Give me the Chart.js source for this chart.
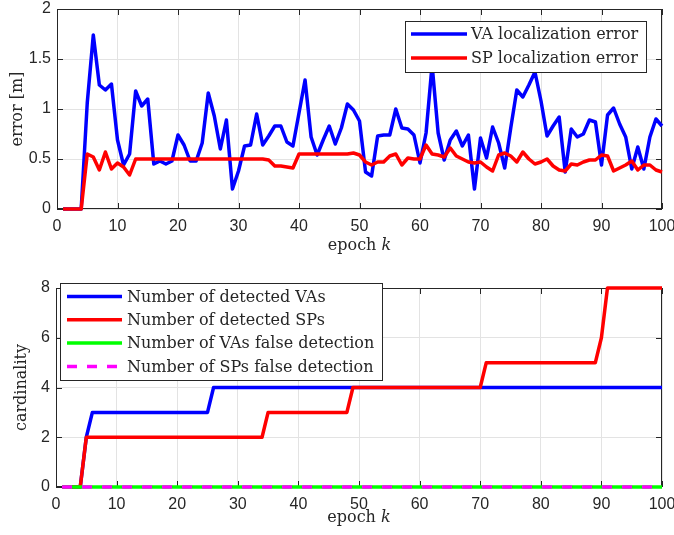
<!DOCTYPE html>
<html>
<head>
<meta charset="utf-8">
<script src="https://cdn.jsdelivr.net/npm/chart.js@4.4.0/dist/chart.umd.min.js"></script>
<style>
  body { margin: 0; background: #fff; }
  #wrap { position: relative; width: 674px; height: 535px; }
  canvas { position: absolute; left: 0; }
</style>
</head>
<body>
<div id="wrap">
  <canvas id="errChart" width="674" height="267" style="top:0"></canvas>
  <canvas id="cardChart" width="674" height="268" style="top:267px"></canvas>
</div>
<script>
// epochs k = 1..100
const epochs = Array.from({ length: 100 }, (_, i) => i + 1);

// top panel: localization error [m]
const vaError = [
  0, 0, 0, 0, 1.06, 1.74, 1.24, 1.19, 1.25, 0.69,
  0.44, 0.55, 1.18, 1.03, 1.10, 0.45, 0.48, 0.45, 0.48, 0.74,
  0.64, 0.48, 0.48, 0.66, 1.16, 0.93, 0.60, 0.89, 0.20, 0.38,
  0.63, 0.64, 0.95, 0.64, 0.73, 0.83, 0.83, 0.67, 0.63, 0.96,
  1.29, 0.72, 0.54, 0.69, 0.83, 0.65, 0.81, 1.05, 0.99, 0.88,
  0.37, 0.33, 0.73, 0.74, 0.74, 1.00, 0.81, 0.80, 0.74, 0.46,
  0.76, 1.44, 0.76, 0.49, 0.69, 0.78, 0.63, 0.74, 0.20, 0.71,
  0.51, 0.82, 0.66, 0.41, 0.81, 1.19, 1.12, 1.24, 1.37, 1.08,
  0.73, 0.83, 0.92, 0.37, 0.80, 0.72, 0.75, 0.89, 0.87, 0.44,
  0.94, 1.01, 0.85, 0.72, 0.40, 0.62, 0.40, 0.72, 0.90, 0.83
];
const spError = [
  0, 0, 0, 0, 0.55, 0.52, 0.39, 0.57, 0.40, 0.46,
  0.42, 0.34, 0.50, 0.50, 0.50, 0.50, 0.50, 0.50, 0.50, 0.50,
  0.50, 0.50, 0.50, 0.50, 0.50, 0.50, 0.50, 0.50, 0.50, 0.50,
  0.50, 0.50, 0.50, 0.50, 0.49, 0.43, 0.43, 0.42, 0.41, 0.55,
  0.55, 0.55, 0.55, 0.55, 0.55, 0.55, 0.55, 0.55, 0.56, 0.54,
  0.47, 0.44, 0.47, 0.47, 0.53, 0.55, 0.44, 0.51, 0.50, 0.50,
  0.64, 0.55, 0.54, 0.52, 0.61, 0.53, 0.50, 0.47, 0.46, 0.47,
  0.42, 0.38, 0.54, 0.56, 0.53, 0.47, 0.57, 0.50, 0.45, 0.47,
  0.50, 0.43, 0.39, 0.38, 0.45, 0.44, 0.47, 0.49, 0.49, 0.54,
  0.53, 0.38, 0.41, 0.44, 0.48, 0.39, 0.44, 0.44, 0.39, 0.37
];

// bottom panel: cardinality
const vaCount = [
  0, 0, 0, 0, 2, 3, 3, 3, 3, 3, 3, 3, 3, 3, 3, 3, 3, 3, 3, 3,
  3, 3, 3, 3, 3, 4, 4, 4, 4, 4, 4, 4, 4, 4, 4, 4, 4, 4, 4, 4,
  4, 4, 4, 4, 4, 4, 4, 4, 4, 4, 4, 4, 4, 4, 4, 4, 4, 4, 4, 4,
  4, 4, 4, 4, 4, 4, 4, 4, 4, 4, 4, 4, 4, 4, 4, 4, 4, 4, 4, 4,
  4, 4, 4, 4, 4, 4, 4, 4, 4, 4, 4, 4, 4, 4, 4, 4, 4, 4, 4, 4
];
const spCount = [
  0, 0, 0, 0, 2, 2, 2, 2, 2, 2, 2, 2, 2, 2, 2, 2, 2, 2, 2, 2,
  2, 2, 2, 2, 2, 2, 2, 2, 2, 2, 2, 2, 2, 2, 3, 3, 3, 3, 3, 3,
  3, 3, 3, 3, 3, 3, 3, 3, 4, 4, 4, 4, 4, 4, 4, 4, 4, 4, 4, 4,
  4, 4, 4, 4, 4, 4, 4, 4, 4, 4, 5, 5, 5, 5, 5, 5, 5, 5, 5, 5,
  5, 5, 5, 5, 5, 5, 5, 5, 5, 6, 8, 8, 8, 8, 8, 8, 8, 8, 8, 8
];
const vaFalse = [
  0, 0, 0, 0, 0, 0, 0, 0, 0, 0, 0, 0, 0, 0, 0, 0, 0, 0, 0, 0,
  0, 0, 0, 0, 0, 0, 0, 0, 0, 0, 0, 0, 0, 0, 0, 0, 0, 0, 0, 0,
  0, 0, 0, 0, 0, 0, 0, 0, 0, 0, 0, 0, 0, 0, 0, 0, 0, 0, 0, 0,
  0, 0, 0, 0, 0, 0, 0, 0, 0, 0, 0, 0, 0, 0, 0, 0, 0, 0, 0, 0,
  0, 0, 0, 0, 0, 0, 0, 0, 0, 0, 0, 0, 0, 0, 0, 0, 0, 0, 0, 0
];
const spFalse = [
  0, 0, 0, 0, 0, 0, 0, 0, 0, 0, 0, 0, 0, 0, 0, 0, 0, 0, 0, 0,
  0, 0, 0, 0, 0, 0, 0, 0, 0, 0, 0, 0, 0, 0, 0, 0, 0, 0, 0, 0,
  0, 0, 0, 0, 0, 0, 0, 0, 0, 0, 0, 0, 0, 0, 0, 0, 0, 0, 0, 0,
  0, 0, 0, 0, 0, 0, 0, 0, 0, 0, 0, 0, 0, 0, 0, 0, 0, 0, 0, 0,
  0, 0, 0, 0, 0, 0, 0, 0, 0, 0, 0, 0, 0, 0, 0, 0, 0, 0, 0, 0
];

const xTicks = [0, 10, 20, 30, 40, 50, 60, 70, 80, 90, 100];
const errTicks = [0, 0.5, 1, 1.5, 2];
const cardTicks = [0, 2, 4, 6, 8];

const AX = '#262626';
const SANS = '"Liberation Sans", Arial, sans-serif';
const SERIF = '"DejaVu Serif", "Liberation Serif", serif';
const SERIF_PX = 16;

function series(label, values, color, dash) {
  return {
    label: label,
    data: values.map((v, i) => ({ x: epochs[i], y: v })),
    borderColor: color,
    backgroundColor: color,
    borderWidth: 3.5,
    borderDash: dash || [],
    borderJoinStyle: 'round',
    pointRadius: 0,
    tension: 0,
    clip: 6
  };
}

// box + inward ticks (MATLAB style), drawn under the data
const framePlugin = {
  id: 'frame',
  beforeDatasetsDraw(chart) {
    const { ctx, chartArea: a, scales: { x, y } } = chart;
    const len = 6;
    ctx.save();
    ctx.strokeStyle = AX;
    ctx.lineWidth = 1;
    ctx.beginPath();
    x.ticks.forEach(t => {
      const px = Math.round(x.getPixelForValue(t.value)) + 0.5;
      ctx.moveTo(px, a.bottom); ctx.lineTo(px, a.bottom - len);
      ctx.moveTo(px, a.top); ctx.lineTo(px, a.top + len);
    });
    y.ticks.forEach(t => {
      const py = Math.round(y.getPixelForValue(t.value)) + 0.5;
      ctx.moveTo(a.left, py); ctx.lineTo(a.left + len, py);
      ctx.moveTo(a.right, py); ctx.lineTo(a.right - len, py);
    });
    ctx.stroke();
    ctx.strokeRect(Math.round(a.left) + 0.5, Math.round(a.top) + 0.5,
      Math.round(a.width) - 1, Math.round(a.height) - 1);
    ctx.restore();
  }
};

// axis titles and boxed legend inside the plot
const decorPlugin = {
  id: 'decor',
  afterDraw(chart, args, opts) {
    const { ctx, chartArea: a } = chart;
    const font = SERIF_PX + 'px ' + SERIF;
    const italic = 'italic ' + SERIF_PX + 'px ' + SERIF;
    ctx.save();
    ctx.fillStyle = AX;
    ctx.font = font;
    ctx.textBaseline = 'middle';

    // y title
    ctx.save();
    ctx.translate(opts.yTitleX, (a.top + a.bottom) / 2);
    ctx.rotate(-Math.PI / 2);
    ctx.textAlign = 'center';
    ctx.fillText(opts.yTitle, 0, 0);
    ctx.restore();

    // x title "epoch k" with italic k
    const cx = (a.left + a.right) / 2;
    const part1 = 'epoch ';
    const w1 = ctx.measureText(part1).width;
    ctx.font = italic;
    const w2 = ctx.measureText('k').width;
    const x0 = cx - (w1 + w2) / 2;
    ctx.textAlign = 'left';
    ctx.font = font;
    ctx.fillText(part1, x0, opts.xTitleY);
    ctx.font = italic;
    ctx.fillText('k', x0 + w1, opts.xTitleY);

    // legend
    const L = opts.legend;
    ctx.fillStyle = '#fff';
    ctx.fillRect(L.x, L.y, L.w, L.h);
    ctx.strokeStyle = AX;
    ctx.lineWidth = 1;
    ctx.strokeRect(L.x + 0.5, L.y + 0.5, L.w, L.h);
    ctx.font = font;
    chart.data.datasets.forEach((ds, i) => {
      const ry = L.y + L.row0 + i * L.step;
      ctx.strokeStyle = ds.borderColor;
      ctx.lineWidth = 3.5;
      ctx.setLineDash(ds.borderDash);
      ctx.beginPath();
      ctx.moveTo(L.x + L.lineX0, ry);
      ctx.lineTo(L.x + L.lineX1, ry);
      ctx.stroke();
      ctx.setLineDash([]);
      ctx.fillStyle = AX;
      ctx.fillText(ds.label, L.x + L.textX, ry + 1);
    });
    ctx.restore();
  }
};

function makeOptions(yTicks, yWidth, xHeight, padTop, decor) {
  return {
    responsive: false,
    animation: false,
    devicePixelRatio: 1,
    layout: { padding: { left: 0, right: 12, top: padTop, bottom: 0 } },
    plugins: { legend: { display: false }, tooltip: { enabled: false }, decor: decor },
    scales: {
      x: {
        type: 'linear', min: 0, max: 100,
        afterBuildTicks: s => { s.ticks = xTicks.map(v => ({ value: v })); },
        afterFit: s => { s.height = xHeight; s.paddingLeft = 0; s.paddingRight = 0; },
        grid: { color: '#e3e3e3', drawTicks: false },
        border: { display: false },
        ticks: { color: AX, padding: 8, font: { family: SANS, size: 16 }, maxRotation: 0,
                 callback: v => String(v) }
      },
      y: {
        type: 'linear', min: yTicks[0], max: yTicks[yTicks.length - 1],
        afterBuildTicks: s => { s.ticks = yTicks.map(v => ({ value: v })); },
        afterFit: s => { s.width = yWidth; s.paddingTop = 0; s.paddingBottom = 0; },
        grid: { color: '#e3e3e3', drawTicks: false },
        border: { display: false },
        ticks: { color: AX, padding: 6, font: { family: SANS, size: 16 },
                 callback: v => String(v) }
      }
    }
  };
}

const errDatasets = [
  series('VA localization error', vaError, '#0000ff'),
  series('SP localization error', spError, '#ff0000')
];
const cardDatasets = [
  series('Number of detected VAs', vaCount, '#0000ff'),
  series('Number of detected SPs', spCount, '#ff0000'),
  series('Number of VAs false detection', vaFalse, '#00ff00'),
  series('Number of SPs false detection', spFalse, '#ff00ff', [10, 10])
];
// later series on top, as in the original
errDatasets.forEach((d, i) => d.order = errDatasets.length - i);
cardDatasets.forEach((d, i) => d.order = cardDatasets.length - i);

new Chart(document.getElementById('errChart'), {
  type: 'line',
  data: { datasets: errDatasets },
  options: makeOptions(errTicks, 57, 58, 9, {
    yTitle: 'error [m]', yTitleX: 18, xTitleY: 246,
    legend: { x: 405, y: 21, w: 241, h: 51, row0: 13, step: 24, lineX0: 6, lineX1: 62, textX: 66 }
  }),
  plugins: [framePlugin, decorPlugin]
});

new Chart(document.getElementById('cardChart'), {
  type: 'line',
  data: { datasets: cardDatasets },
  options: makeOptions(cardTicks, 56, 48, 21, {
    yTitle: 'cardinality', yTitleX: 22, xTitleY: 251,
    legend: { x: 60, y: 16, w: 322, h: 97, row0: 13.5, step: 23.3, lineX0: 7, lineX1: 62, textX: 67 }
  }),
  plugins: [framePlugin, decorPlugin]
});
</script>
</body>
</html>
